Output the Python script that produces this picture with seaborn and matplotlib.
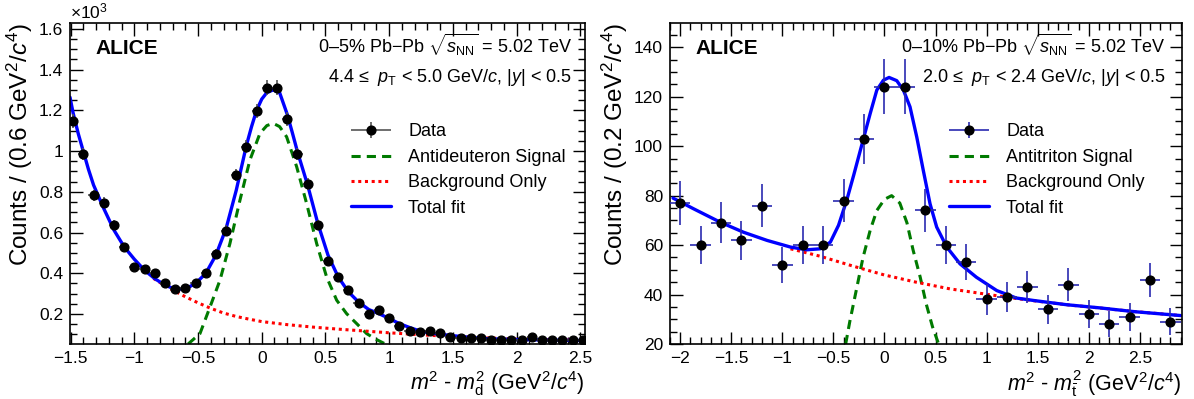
import numpy as np
import matplotlib
matplotlib.use("Agg")
import matplotlib.pyplot as plt
from matplotlib.ticker import MultipleLocator, FuncFormatter
from matplotlib.legend_handler import HandlerErrorbar
from matplotlib.lines import Line2D
import seaborn as sns

# ---- left panel: antideuterons, 0-5% (counts in units of 10^3) ----
d_x = [-1.48, -1.40, -1.32, -1.24, -1.16, -1.08, -1.00, -0.92, -0.84, -0.76,
       -0.68, -0.60, -0.52, -0.44, -0.36, -0.28, -0.20, -0.12, -0.04, 0.04,
       0.12, 0.20, 0.28, 0.36, 0.44, 0.52, 0.60, 0.68, 0.76, 0.84,
       0.92, 1.00, 1.08, 1.16, 1.24, 1.32, 1.40, 1.48, 1.56, 1.64,
       1.72, 1.80, 1.88, 1.96, 2.04, 2.12, 2.20, 2.28, 2.36, 2.44, 2.52]
d_y = [1.149, 0.985, 0.782, 0.746, 0.636, 0.527, 0.431, 0.422, 0.402, 0.350,
       0.322, 0.330, 0.353, 0.400, 0.495, 0.610, 0.881, 1.021, 1.198, 1.311,
       1.311, 1.159, 0.985, 0.838, 0.638, 0.459, 0.382, 0.320, 0.256, 0.202,
       0.222, 0.181, 0.140, 0.117, 0.112, 0.115, 0.107, 0.085, 0.080, 0.080,
       0.082, 0.072, 0.072, 0.075, 0.074, 0.085, 0.072, 0.072, 0.072, 0.075, 0.072]
d_err = [0.034, 0.031, 0.028, 0.027, 0.025, 0.023, 0.021, 0.021, 0.020, 0.019,
         0.018, 0.018, 0.019, 0.020, 0.022, 0.025, 0.030, 0.032, 0.035, 0.036,
         0.036, 0.034, 0.031, 0.029, 0.025, 0.021, 0.020, 0.018, 0.016, 0.014,
         0.015, 0.013, 0.012, 0.011, 0.011, 0.011, 0.010, 0.009, 0.009, 0.009,
         0.009, 0.008, 0.008, 0.009, 0.009, 0.009, 0.008, 0.008, 0.008, 0.009, 0.008]

d_fit_x = [-1.505, -1.48, -1.44, -1.40, -1.36, -1.32, -1.24, -1.16, -1.08, -1.00,
           -0.92, -0.84, -0.76, -0.68, -0.60, -0.52, -0.44, -0.36, -0.28, -0.20,
           -0.12, -0.08, -0.04, 0.00, 0.04, 0.09, 0.14, 0.20, 0.24, 0.28,
           0.36, 0.44, 0.52, 0.60, 0.68, 0.76, 0.84, 0.92, 1.00, 1.08,
           1.16, 1.24, 1.32, 1.48, 1.64, 1.80, 2.00, 2.20, 2.54]
d_fit_y = [1.264, 1.185, 1.085, 0.997, 0.910, 0.833, 0.718, 0.612, 0.530, 0.469,
           0.415, 0.374, 0.342, 0.322, 0.323, 0.350, 0.399, 0.489, 0.620, 0.808,
           1.029, 1.120, 1.201, 1.255, 1.287, 1.300, 1.287, 1.180, 1.090, 0.997,
           0.833, 0.645, 0.489, 0.382, 0.309, 0.259, 0.222, 0.202, 0.178, 0.153,
           0.134, 0.117, 0.107, 0.095, 0.085, 0.078, 0.075, 0.073, 0.070]

d_sig_x = [-0.578, -0.485, -0.406, -0.328, -0.250, -0.171, -0.093, -0.014, 0.040,
           0.090, 0.140, 0.195, 0.274, 0.352, 0.431, 0.509, 0.588, 0.666,
           0.745, 0.823, 0.900, 0.970]
d_sig_y = [0.053, 0.104, 0.235, 0.366, 0.546, 0.759, 0.956, 1.087, 1.125,
           1.136, 1.120, 1.070, 0.923, 0.743, 0.546, 0.382, 0.268, 0.202,
           0.153, 0.104, 0.075, 0.053]

d_bkg_x = [-0.85, -0.80, -0.70, -0.60, -0.50, -0.40, -0.30, -0.20, -0.10, 0.00,
           0.20, 0.40, 0.60, 0.80, 1.00, 1.20, 1.40, 1.60, 1.80, 2.00, 2.20, 2.54]
d_bkg_y = [0.375, 0.355, 0.318, 0.285, 0.255, 0.228, 0.205, 0.188, 0.175, 0.163,
           0.148, 0.136, 0.126, 0.117, 0.108, 0.100, 0.093, 0.087, 0.082, 0.078,
           0.075, 0.071]

# ---- right panel: antitritons, 0-10% ----
t_x = [-2.0, -1.8, -1.6, -1.4, -1.2, -1.0, -0.8, -0.6, -0.4, -0.2, 0.0, 0.2,
       0.4, 0.6, 0.8, 1.0, 1.2, 1.4, 1.6, 1.8, 2.0, 2.2, 2.4, 2.6, 2.8]
t_y = [77, 60, 69, 62, 76, 52, 60, 60, 78, 103, 124, 124,
       74, 60, 53, 38, 39, 43, 34, 44, 32, 28, 31, 46, 29]
t_err = [8.8, 7.7, 8.3, 7.9, 8.7, 7.2, 7.7, 7.7, 8.8, 10.1, 11.1, 11.1,
         8.6, 7.7, 7.3, 6.2, 6.2, 6.6, 5.8, 6.6, 5.7, 5.3, 5.6, 6.8, 5.4]

t_fit_x = [-2.07, -1.87, -1.61, -1.38, -1.15, -0.92, -0.76, -0.63, -0.53, -0.45,
           -0.37, -0.30, -0.21, -0.14, -0.075, -0.01, 0.045, 0.12, 0.185, 0.25,
           0.316, 0.38, 0.446, 0.511, 0.61, 0.74, 0.90, 1.10, 1.29, 1.46,
           1.78, 2.11, 2.44, 2.90]
t_fit_y = [79.0, 74.7, 69.3, 65.2, 61.9, 59.2, 58.1, 58.5, 61.2, 68.0,
           78.1, 88.5, 102.4, 113.2, 122.7, 126.7, 127.8, 126.5, 122.7, 115.9,
           103.7, 90.2, 76.7, 67.3, 59.2, 52.4, 47.0, 41.6, 38.6, 37.6,
           35.9, 34.6, 33.1, 31.5]

t_sig_x = [-0.38, -0.34, -0.27, -0.21, -0.14, -0.075, 0.0, 0.07, 0.15, 0.22,
           0.28, 0.35, 0.41, 0.47, 0.53]
t_sig_y = [20, 29, 43, 55, 66, 74, 78.5, 80, 77, 69,
           58, 47, 36, 27, 20]

t_bkg_x = [-0.92, -0.63, -0.30, 0.0, 0.31, 0.64, 0.97, 1.29, 1.5, 1.8, 2.1, 2.4, 2.9]
t_bkg_y = [58.5, 55.5, 51.4, 47.9, 45.0, 42.3, 40.3, 38.4, 37.3, 35.8, 34.6, 33.3, 31.5]

sns.set_theme(style="ticks")
plt.rcParams["font.family"] = ["Liberation Sans", "DejaVu Sans"]
plt.rcParams["mathtext.fontset"] = "custom"
plt.rcParams["mathtext.rm"] = "Liberation Sans"
plt.rcParams["mathtext.it"] = "Liberation Sans:italic"
plt.rcParams["mathtext.bf"] = "Liberation Sans:bold"
for k in ["text.color", "axes.labelcolor", "xtick.color", "ytick.color", "axes.edgecolor"]:
    plt.rcParams[k] = "black"

FS = 12.5   # tick labels
TS = 13     # legend and annotations
LS = 17.5   # y axis titles
fig = plt.figure(figsize=(11.94, 3.99), dpi=100)
axL = fig.add_axes([70 / 1194, 55 / 399, 515 / 1194, 320.7 / 399])
axR = fig.add_axes([670 / 1194, 55 / 399, 511.7 / 1194, 320.7 / 399])


def style_axis(ax, xmaj, ymaj, ymin_div):
    ax.xaxis.set_major_locator(MultipleLocator(xmaj))
    ax.xaxis.set_minor_locator(MultipleLocator(xmaj / 5))
    ax.yaxis.set_major_locator(MultipleLocator(ymaj))
    ax.yaxis.set_minor_locator(MultipleLocator(ymaj / ymin_div))
    ax.xaxis.set_major_formatter(FuncFormatter(lambda v, p: ("%g" % round(v, 3)).replace("-", "\u2212")))
    ax.yaxis.set_major_formatter(FuncFormatter(lambda v, p: "%g" % round(v, 3)))
    ax.tick_params(which="both", direction="in", top=True, right=True,
                   labelsize=FS, width=1.0, color="black", labelcolor="black")
    ax.tick_params(which="major", length=9, pad=5)
    ax.tick_params(which="minor", length=5)
    for s in ax.spines.values():
        s.set_linewidth(1.2)
        s.set_color("black")


def draw_panel(ax, x, y, yerr, xerr, ecol, fit_x, fit_y, sig_x, sig_y, bkg_x, bkg_y, sig_label):
    sns.lineplot(x=sig_x, y=sig_y, ax=ax, color="#007a00", lw=2.2, linestyle=(0, (3, 2)), sort=False)
    sns.lineplot(x=bkg_x, y=bkg_y, ax=ax, color="#ff0000", lw=2.2, linestyle=(0, (1, 1.2)), sort=False)
    sns.lineplot(x=fit_x, y=fit_y, ax=ax, color="#0000ff", lw=2.4, sort=False)
    cont = ax.errorbar(x, y, yerr=yerr, xerr=xerr, fmt="o", color="black", ms=6.3,
                       ecolor=ecol, elinewidth=1.2, capsize=0, zorder=5)
    h_sig = Line2D([], [], color="#007a00", lw=2.2, linestyle=(0, (3, 2)))
    h_bkg = Line2D([], [], color="#ff0000", lw=2.2, linestyle=(0, (1, 1.2)))
    h_fit = Line2D([], [], color="#0000ff", lw=2.4)
    ax.legend([cont, h_sig, h_bkg, h_fit], ["Data", sig_label, "Background Only", "Total fit"],
              loc="upper left", bbox_to_anchor=(0.546, 0.688), frameon=False,
              fontsize=TS, handlelength=2.2, handletextpad=0.95, borderaxespad=0,
              borderpad=0, labelspacing=0.47,
              handler_map={type(cont): HandlerErrorbar(xerr_size=1.1, yerr_size=0.45)})


draw_panel(axL, d_x, d_y, d_err, 0.04, "#555555", d_fit_x, d_fit_y,
           d_sig_x, d_sig_y, d_bkg_x, d_bkg_y, "Antideuteron Signal")
draw_panel(axR, t_x, t_y, t_err, 0.1, "#2a2ab0", t_fit_x, t_fit_y,
           t_sig_x, t_sig_y, t_bkg_x, t_bkg_y, "Antitriton Signal")

axL.set_xlim(-1.505, 2.537)
axL.set_ylim(0.053, 1.627)
axR.set_xlim(-2.1, 2.91)
axR.set_ylim(20, 149.7)
style_axis(axL, 0.5, 0.2, 4)
style_axis(axR, 0.5, 20, 4)

axL.text(0.0, 1.005, r"$\times10^{3}$", transform=axL.transAxes, fontsize=FS,
         ha="left", va="bottom")

axL.set_ylabel(r"Counts / (0.6 GeV$^{2}$/$c^{4}$)", fontsize=LS, loc="top", labelpad=3)
axR.set_ylabel(r"Counts / (0.2 GeV$^{2}$/$c^{4}$)", fontsize=LS, loc="top", labelpad=3)
axL.set_xlabel(r"$m^{2}$ - $m^{2}_{\mathrm{d}}$ (GeV$^{2}$/$c^{4}$)", fontsize=15.5, loc="right", labelpad=2)
axR.set_xlabel(r"$m^{2}$ - $m^{2}_{\bar{\mathrm{t}}}$ (GeV$^{2}$/$c^{4}$)", fontsize=15.5, loc="right", labelpad=2)

for ax, cent, xr in [(axL, "0\u20135%", 0.975), (axR, "0\u201310%", 0.968)]:
    ax.text(0.049, 0.904, "ALICE", transform=ax.transAxes, fontsize=15, fontweight="bold",
            ha="left", va="baseline")
    ax.text(xr, 0.908, cent + r" Pb$-$Pb $\sqrt{s_{\mathrm{NN}}}$ = 5.02 TeV",
            transform=ax.transAxes, fontsize=TS, ha="right", va="baseline")
axL.text(0.975, 0.818, "4.4 \u2264  " + r"$p_{\mathrm{T}}$ < 5.0 GeV/$c$, |$y$| < 0.5",
         transform=axL.transAxes, fontsize=TS, ha="right", va="baseline")
axR.text(0.968, 0.818, "2.0 \u2264  " + r"$p_{\mathrm{T}}$ < 2.4 GeV/$c$, |$y$| < 0.5",
         transform=axR.transAxes, fontsize=TS, ha="right", va="baseline")

fig.savefig("out.png", dpi=100)
